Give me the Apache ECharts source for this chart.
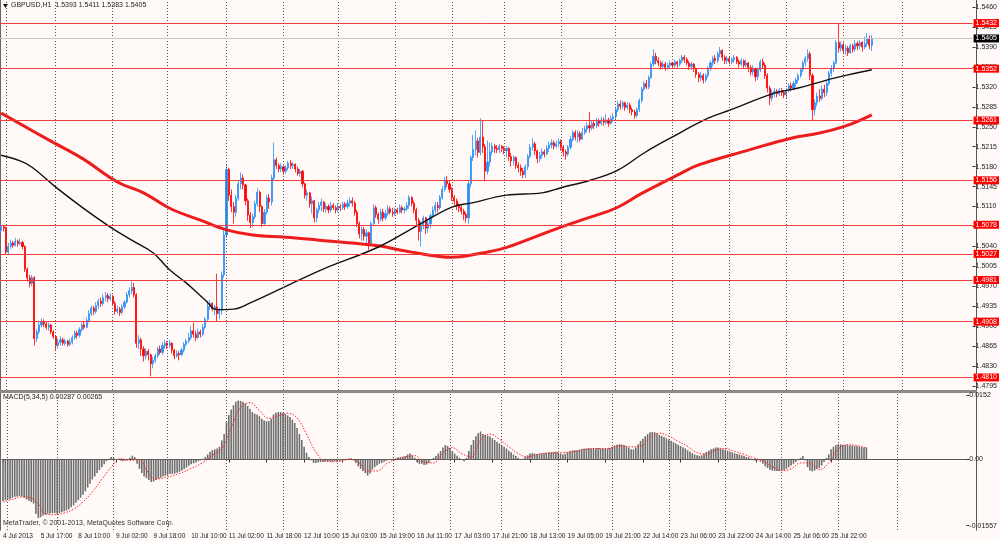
<!DOCTYPE html>
<html lang="en">
<head>
<meta charset="UTF-8">
<title>GBPUSD,H1</title>
<script src="https://cdn.jsdelivr.net/npm/echarts@6/dist/echarts.min.js"></script>
<style>
  html, body { margin: 0; padding: 0; background: #fffaf8; }
  #chart { width: 1000px; height: 541px; }
</style>
</head>
<body>
<div id="chart"></div>
<script>
// ---- data ----
const symbol = 'GBPUSD,H1';
const timeLabels = ['4 Jul 2013', '5 Jul 17:00', '8 Jul 10:00', '9 Jul 02:00', '9 Jul 18:00', '10 Jul 10:00',
  '11 Jul 02:00', '11 Jul 18:00', '12 Jul 10:00', '15 Jul 03:00', '15 Jul 19:00', '16 Jul 11:00',
  '17 Jul 03:00', '17 Jul 21:00', '18 Jul 13:00', '19 Jul 05:00', '19 Jul 21:00', '22 Jul 14:00',
  '23 Jul 06:00', '23 Jul 22:00', '24 Jul 14:00', '25 Jul 06:00', '25 Jul 22:00'];
const priceTicks = [1.4795, 1.4830, 1.4865, 1.4900, 1.4935, 1.4970, 1.5005, 1.5040, 1.5075, 1.5110,
  1.5145, 1.5180, 1.5215, 1.5250, 1.5285, 1.5320, 1.5355, 1.5390, 1.5425, 1.5460];
const levels = [1.5432, 1.5352, 1.5261, 1.5156, 1.5078, 1.5027, 1.4981, 1.4908, 1.4810];
const dayLines = [2, 23, 47, 70, 95, 119, 142, 166, 190, 212, 236, 259, 283, 307, 331, 355, 380];
const macdTicks = [-0.01557, 0, 0.0152];

const firstOpen = 1.5068;
const closes = [
  1.5075,1.5072,1.5030,1.5040,1.5046,1.5042,1.5049,1.5045,1.5047,1.5040,
  1.5000,1.4985,1.4975,1.4985,1.4878,1.4890,1.4902,1.4908,1.4904,1.4898,
  1.4902,1.4890,1.4882,1.4866,1.4872,1.4876,1.4870,1.4874,1.4868,1.4872,
  1.4880,1.4888,1.4884,1.4894,1.4902,1.4898,1.4910,1.4922,1.4932,1.4926,
  1.4936,1.4944,1.4940,1.4950,1.4954,1.4948,1.4952,1.4940,1.4926,1.4930,
  1.4924,1.4934,1.4942,1.4955,1.4962,1.4968,1.4955,1.4870,1.4876,1.4860,
  1.4848,1.4856,1.4850,1.4834,1.4840,1.4848,1.4860,1.4854,1.4866,1.4870,
  1.4866,1.4870,1.4858,1.4848,1.4852,1.4850,1.4858,1.4868,1.4874,1.4880,
  1.4892,1.4886,1.4880,1.4890,1.4886,1.4898,1.4912,1.4935,1.4940,1.4930,
  1.4934,1.4922,1.4928,1.4990,1.5060,1.5175,1.5130,1.5110,1.5100,1.5125,
  1.5150,1.5160,1.5148,1.5120,1.5095,1.5082,1.5092,1.5115,1.5135,1.5110,
  1.5080,1.5100,1.5125,1.5118,1.5160,1.5192,1.5182,1.5176,1.5180,1.5172,
  1.5178,1.5186,1.5182,1.5184,1.5176,1.5168,1.5172,1.5150,1.5130,1.5134,
  1.5115,1.5120,1.5090,1.5104,1.5112,1.5118,1.5106,1.5110,1.5104,1.5112,
  1.5108,1.5104,1.5110,1.5108,1.5114,1.5110,1.5116,1.5120,1.5116,1.5100,
  1.5080,1.5062,1.5070,1.5058,1.5064,1.5046,1.5080,1.5108,1.5096,1.5088,
  1.5100,1.5090,1.5098,1.5106,1.5100,1.5098,1.5104,1.5100,1.5108,1.5104,
  1.5106,1.5112,1.5126,1.5116,1.5104,1.5086,1.5066,1.5078,1.5090,1.5072,
  1.5080,1.5094,1.5104,1.5112,1.5108,1.5126,1.5140,1.5156,1.5150,1.5140,
  1.5126,1.5120,1.5112,1.5108,1.5102,1.5096,1.5090,1.5150,1.5196,1.5210,
  1.5225,1.5205,1.5232,1.5215,1.5172,1.5188,1.5206,1.5216,1.5212,1.5210,
  1.5216,1.5212,1.5208,1.5212,1.5198,1.5190,1.5196,1.5182,1.5178,1.5172,
  1.5166,1.5180,1.5198,1.5214,1.5220,1.5208,1.5194,1.5200,1.5206,1.5202,
  1.5212,1.5218,1.5222,1.5216,1.5220,1.5224,1.5214,1.5206,1.5202,1.5214,
  1.5228,1.5240,1.5232,1.5238,1.5228,1.5240,1.5246,1.5252,1.5248,1.5256,
  1.5252,1.5260,1.5256,1.5262,1.5258,1.5262,1.5256,1.5264,1.5268,1.5280,
  1.5290,1.5286,1.5292,1.5284,1.5288,1.5280,1.5276,1.5270,1.5280,1.5296,
  1.5316,1.5326,1.5320,1.5336,1.5360,1.5374,1.5366,1.5362,1.5356,1.5360,
  1.5354,1.5358,1.5362,1.5358,1.5364,1.5360,1.5366,1.5372,1.5368,1.5362,
  1.5356,1.5360,1.5352,1.5342,1.5336,1.5340,1.5332,1.5340,1.5352,1.5362,
  1.5370,1.5366,1.5378,1.5384,1.5372,1.5366,1.5370,1.5364,1.5368,1.5372,
  1.5364,1.5360,1.5366,1.5358,1.5362,1.5354,1.5346,1.5352,1.5338,1.5350,
  1.5364,1.5358,1.5340,1.5318,1.5300,1.5310,1.5312,1.5308,1.5314,1.5310,
  1.5306,1.5314,1.5322,1.5318,1.5326,1.5332,1.5340,1.5350,1.5362,1.5370,
  1.5378,1.5340,1.5280,1.5292,1.5304,1.5300,1.5316,1.5310,1.5326,1.5344,
  1.5352,1.5362,1.5398,1.5388,1.5394,1.5384,1.5388,1.5380,1.5392,1.5386,
  1.5396,1.5392,1.5398,1.5390,1.5396,1.5404,1.5393,1.5405
];
const highs = [
  1.5080,1.5078,1.5074,1.5046,1.5052,1.5050,1.5055,1.5052,1.5054,1.5050,
  1.5042,1.5003,1.4990,1.4990,1.4988,1.4895,1.4908,1.4914,1.4912,1.4908,
  1.4906,1.4904,1.4893,1.4884,1.4878,1.4882,1.4880,1.4878,1.4876,1.4878,
  1.4884,1.4892,1.4892,1.4898,1.4906,1.4908,1.4915,1.4928,1.4936,1.4936,
  1.4942,1.4948,1.4950,1.4956,1.4960,1.4958,1.4958,1.4955,1.4944,1.4936,
  1.4934,1.4938,1.4946,1.4960,1.4968,1.4978,1.4976,1.4958,1.4884,1.4880,
  1.4865,1.4862,1.4860,1.4852,1.4846,1.4852,1.4864,1.4866,1.4872,1.4876,
  1.4874,1.4876,1.4872,1.4860,1.4858,1.4856,1.4862,1.4872,1.4878,1.4888,
  1.4900,1.4906,1.4892,1.4896,1.4894,1.4904,1.4916,1.4944,1.4946,1.4942,
  1.4938,1.4992,1.4932,1.4996,1.5070,1.5185,1.5178,1.5140,1.5118,1.5130,
  1.5156,1.5170,1.5166,1.5150,1.5124,1.5100,1.5098,1.5120,1.5142,1.5138,
  1.5112,1.5106,1.5130,1.5132,1.5166,1.5222,1.5196,1.5186,1.5186,1.5182,
  1.5182,1.5190,1.5192,1.5188,1.5186,1.5180,1.5176,1.5174,1.5152,1.5140,
  1.5136,1.5128,1.5122,1.5108,1.5118,1.5124,1.5120,1.5116,1.5114,1.5118,
  1.5116,1.5112,1.5116,1.5114,1.5118,1.5118,1.5122,1.5126,1.5126,1.5120,
  1.5104,1.5084,1.5076,1.5074,1.5070,1.5066,1.5084,1.5114,1.5112,1.5100,
  1.5106,1.5106,1.5104,1.5112,1.5110,1.5108,1.5108,1.5108,1.5114,1.5112,
  1.5110,1.5118,1.5130,1.5128,1.5120,1.5108,1.5090,1.5084,1.5094,1.5092,
  1.5086,1.5098,1.5110,1.5118,1.5118,1.5130,1.5146,1.5162,1.5164,1.5156,
  1.5144,1.5130,1.5124,1.5116,1.5112,1.5106,1.5100,1.5156,1.5200,1.5236,
  1.5244,1.5230,1.5265,1.5262,1.5220,1.5226,1.5222,1.5222,1.5220,1.5218,
  1.5220,1.5218,1.5216,1.5216,1.5214,1.5204,1.5200,1.5198,1.5188,1.5184,
  1.5178,1.5184,1.5202,1.5220,1.5230,1.5224,1.5210,1.5206,1.5212,1.5210,
  1.5218,1.5224,1.5228,1.5226,1.5226,1.5230,1.5228,1.5218,1.5210,1.5218,
  1.5234,1.5244,1.5244,1.5244,1.5242,1.5248,1.5252,1.5258,1.5276,1.5262,
  1.5262,1.5266,1.5264,1.5268,1.5266,1.5272,1.5266,1.5270,1.5274,1.5284,
  1.5296,1.5296,1.5296,1.5294,1.5294,1.5292,1.5284,1.5280,1.5284,1.5300,
  1.5320,1.5330,1.5332,1.5340,1.5364,1.5386,1.5380,1.5372,1.5366,1.5366,
  1.5364,1.5362,1.5366,1.5364,1.5368,1.5366,1.5370,1.5376,1.5376,1.5372,
  1.5366,1.5364,1.5362,1.5354,1.5346,1.5346,1.5344,1.5344,1.5356,1.5366,
  1.5374,1.5376,1.5382,1.5390,1.5386,1.5376,1.5374,1.5374,1.5372,1.5376,
  1.5374,1.5368,1.5370,1.5368,1.5368,1.5364,1.5358,1.5358,1.5354,1.5354,
  1.5368,1.5370,1.5362,1.5344,1.5322,1.5316,1.5318,1.5316,1.5318,1.5318,
  1.5314,1.5318,1.5326,1.5328,1.5330,1.5336,1.5344,1.5354,1.5366,1.5374,
  1.5386,1.5382,1.5344,1.5298,1.5310,1.5316,1.5322,1.5324,1.5332,1.5348,
  1.5358,1.5366,1.5402,1.5432,1.5400,1.5398,1.5394,1.5392,1.5396,1.5396,
  1.5402,1.5400,1.5402,1.5400,1.5408,1.5414,1.5410,1.5411
];
const lows = [
  1.5064,1.5066,1.5025,1.5026,1.5036,1.5038,1.5040,1.5040,1.5042,1.5035,
  1.4995,1.4978,1.4968,1.4970,1.4866,1.4872,1.4886,1.4898,1.4898,1.4894,
  1.4892,1.4886,1.4878,1.4858,1.4860,1.4866,1.4866,1.4866,1.4864,1.4865,
  1.4868,1.4876,1.4878,1.4880,1.4890,1.4894,1.4896,1.4906,1.4918,1.4920,
  1.4922,1.4930,1.4934,1.4936,1.4944,1.4942,1.4944,1.4936,1.4920,1.4922,
  1.4918,1.4920,1.4930,1.4940,1.4950,1.4956,1.4950,1.4862,1.4860,1.4848,
  1.4838,1.4842,1.4840,1.4812,1.4826,1.4836,1.4844,1.4850,1.4850,1.4860,
  1.4860,1.4862,1.4852,1.4842,1.4845,1.4840,1.4848,1.4854,1.4864,1.4870,
  1.4876,1.4880,1.4874,1.4878,1.4880,1.4882,1.4894,1.4908,1.4928,1.4926,
  1.4920,1.4908,1.4912,1.4920,1.4985,1.5055,1.5120,1.5100,1.5080,1.5092,
  1.5120,1.5140,1.5140,1.5112,1.5085,1.5072,1.5074,1.5088,1.5110,1.5100,
  1.5074,1.5078,1.5096,1.5106,1.5112,1.5156,1.5176,1.5170,1.5170,1.5166,
  1.5168,1.5174,1.5176,1.5176,1.5170,1.5164,1.5162,1.5144,1.5124,1.5120,
  1.5108,1.5098,1.5082,1.5082,1.5098,1.5102,1.5100,1.5100,1.5098,1.5100,
  1.5104,1.5098,1.5100,1.5102,1.5104,1.5104,1.5106,1.5110,1.5110,1.5094,
  1.5074,1.5054,1.5050,1.5050,1.5040,1.5034,1.5042,1.5076,1.5090,1.5080,
  1.5084,1.5084,1.5086,1.5094,1.5096,1.5092,1.5094,1.5096,1.5098,1.5098,
  1.5098,1.5102,1.5106,1.5110,1.5098,1.5076,1.5050,1.5040,1.5070,1.5062,
  1.5064,1.5072,1.5090,1.5098,1.5100,1.5104,1.5122,1.5136,1.5144,1.5134,
  1.5120,1.5112,1.5104,1.5100,1.5096,1.5086,1.5082,1.5080,1.5144,1.5190,
  1.5200,1.5196,1.5200,1.5204,1.5154,1.5166,1.5180,1.5200,1.5204,1.5204,
  1.5204,1.5206,1.5202,1.5196,1.5190,1.5180,1.5182,1.5176,1.5170,1.5164,
  1.5160,1.5160,1.5174,1.5194,1.5208,1.5200,1.5186,1.5188,1.5194,1.5196,
  1.5200,1.5206,1.5212,1.5210,1.5212,1.5214,1.5208,1.5198,1.5192,1.5198,
  1.5210,1.5224,1.5226,1.5222,1.5224,1.5228,1.5236,1.5240,1.5240,1.5244,
  1.5246,1.5248,1.5250,1.5252,1.5252,1.5254,1.5250,1.5254,1.5258,1.5262,
  1.5276,1.5280,1.5282,1.5278,1.5280,1.5274,1.5270,1.5264,1.5266,1.5276,
  1.5292,1.5312,1.5316,1.5316,1.5334,1.5356,1.5360,1.5356,1.5350,1.5352,
  1.5348,1.5350,1.5352,1.5352,1.5354,1.5354,1.5356,1.5362,1.5362,1.5358,
  1.5350,1.5350,1.5346,1.5336,1.5328,1.5330,1.5326,1.5328,1.5336,1.5348,
  1.5356,1.5360,1.5362,1.5372,1.5366,1.5360,1.5360,1.5360,1.5360,1.5362,
  1.5360,1.5354,1.5356,1.5352,1.5354,1.5346,1.5340,1.5340,1.5330,1.5332,
  1.5346,1.5352,1.5334,1.5310,1.5288,1.5294,1.5302,1.5302,1.5304,1.5304,
  1.5300,1.5300,1.5310,1.5312,1.5314,1.5320,1.5326,1.5336,1.5346,1.5356,
  1.5364,1.5332,1.5262,1.5270,1.5286,1.5294,1.5296,1.5302,1.5304,1.5322,
  1.5338,1.5346,1.5360,1.5380,1.5382,1.5378,1.5376,1.5374,1.5378,1.5380,
  1.5382,1.5384,1.5386,1.5382,1.5386,1.5390,1.5386,1.5383
];

// moving averages, read at points along each curve (bar index, price)
const maBlackBars = [0, 8, 13, 23, 34, 46, 55, 64, 71, 78, 86, 91, 98, 105, 117, 135, 159, 176, 190,
  198, 213, 228, 236, 249, 260, 271, 282, 298, 307, 326, 336, 348, 357, 367];
const maBlackValues = [1.5200, 1.5190, 1.5179, 1.5144, 1.5109, 1.5074, 1.5051, 1.5029, 1.4999, 1.4976, 1.4946,
  1.4929, 1.4930, 1.4941, 1.4964, 1.4999, 1.5039, 1.5078, 1.5109, 1.5116, 1.5130, 1.5134,
  1.5143, 1.5157, 1.5174, 1.5204, 1.5230, 1.5265, 1.5279, 1.5309, 1.5318, 1.5332, 1.5341, 1.5350];
const maRedBars = [0, 20, 34, 49, 60, 71, 84, 95, 106, 120, 134, 148, 159, 173, 190, 201, 212, 224,
  236, 248, 259, 270, 285, 294, 315, 333, 345, 357, 367];
const maRedValues = [1.5274, 1.5227, 1.5195, 1.5153, 1.5134, 1.5107, 1.5086, 1.5069, 1.5060, 1.5056, 1.5051,
  1.5046, 1.5041, 1.5030, 1.5021, 1.5027, 1.5037, 1.5055, 1.5074, 1.5091, 1.5107, 1.5133,
  1.5165, 1.5183, 1.5209, 1.5230, 1.5239, 1.5253, 1.5271];

// MACD(5,34,5) main histogram, one value per bar
const macd = [
  -0.0098,-0.0096,-0.0094,-0.0093,-0.0090,-0.0088,-0.0087,-0.0086,-0.0087,-0.0090,
  -0.0094,-0.0097,-0.0100,-0.0104,-0.0128,-0.0138,-0.0136,-0.0132,-0.0130,-0.0128,
  -0.0127,-0.0126,-0.0126,-0.0128,-0.0126,-0.0124,-0.0122,-0.0120,-0.0117,-0.0112,
  -0.0108,-0.0102,-0.0096,-0.0090,-0.0083,-0.0075,-0.0066,-0.0057,-0.0047,-0.0040,
  -0.0032,-0.0025,-0.0018,-0.0011,-0.0004,0.0002,0.0006,0.0005,0.0001,-0.0001,
  -0.0003,-0.0004,-0.0003,-0.0001,0.0004,0.0009,0.0006,-0.0010,-0.0022,-0.0032,
  -0.0040,-0.0044,-0.0048,-0.0053,-0.0052,-0.0048,-0.0045,-0.0043,-0.0040,-0.0038,
  -0.0036,-0.0034,-0.0034,-0.0033,-0.0031,-0.0029,-0.0026,-0.0023,-0.0019,-0.0015,
  -0.0011,-0.0009,-0.0007,-0.0004,-0.0002,0.0002,0.0006,0.0012,0.0018,0.0022,
  0.0024,0.0026,0.0030,0.0045,0.0060,0.0088,0.0105,0.0118,0.0128,0.0136,
  0.0139,0.0138,0.0136,0.0132,0.0126,0.0119,0.0112,0.0108,0.0106,0.0102,
  0.0096,0.0092,0.0090,0.0091,0.0096,0.0106,0.0110,0.0112,0.0112,0.0110,
  0.0107,0.0104,0.0100,0.0094,0.0086,0.0074,0.0060,0.0046,0.0030,0.0016,
  0.0006,-0.0002,-0.0008,-0.0008,-0.0007,-0.0006,-0.0006,-0.0005,-0.0005,-0.0004,
  -0.0005,-0.0004,-0.0004,-0.0003,-0.0002,-0.0001,0.0001,0.0003,0.0003,0.0001,
  -0.0008,-0.0016,-0.0022,-0.0027,-0.0032,-0.0038,-0.0033,-0.0024,-0.0018,-0.0014,
  -0.0010,-0.0008,-0.0005,-0.0003,-0.0001,0.0000,0.0002,0.0003,0.0005,0.0006,
  0.0007,0.0008,0.0012,0.0014,0.0010,0.0004,-0.0006,-0.0010,-0.0010,-0.0013,
  -0.0012,-0.0008,-0.0002,0.0004,0.0008,0.0014,0.0020,0.0028,0.0034,0.0032,
  0.0027,0.0020,0.0014,0.0009,0.0004,0.0000,-0.0004,0.0004,0.0020,0.0034,
  0.0046,0.0055,0.0062,0.0066,0.0060,0.0058,0.0056,0.0054,0.0050,0.0046,
  0.0042,0.0038,0.0034,0.0030,0.0026,0.0021,0.0017,0.0012,0.0008,0.0004,
  0.0001,0.0002,0.0006,0.0010,0.0014,0.0015,0.0014,0.0013,0.0014,0.0014,
  0.0015,0.0016,0.0017,0.0017,0.0017,0.0018,0.0016,0.0014,0.0012,0.0014,
  0.0017,0.0020,0.0021,0.0022,0.0022,0.0023,0.0025,0.0026,0.0026,0.0027,
  0.0026,0.0026,0.0026,0.0027,0.0026,0.0026,0.0025,0.0026,0.0027,0.0030,
  0.0033,0.0035,0.0036,0.0035,0.0034,0.0031,0.0028,0.0024,0.0024,0.0028,
  0.0036,0.0044,0.0049,0.0055,0.0060,0.0064,0.0065,0.0064,0.0061,0.0058,
  0.0056,0.0053,0.0050,0.0047,0.0044,0.0041,0.0038,0.0035,0.0032,0.0029,
  0.0026,0.0022,0.0018,0.0015,0.0012,0.0010,0.0009,0.0010,0.0014,0.0018,
  0.0021,0.0024,0.0026,0.0028,0.0028,0.0026,0.0024,0.0023,0.0021,0.0019,
  0.0017,0.0015,0.0013,0.0012,0.0010,0.0008,0.0006,0.0005,0.0002,-0.0002,
  -0.0003,-0.0002,-0.0005,-0.0010,-0.0016,-0.0020,-0.0024,-0.0026,-0.0027,-0.0027,
  -0.0027,-0.0026,-0.0025,-0.0022,-0.0018,-0.0014,-0.0010,-0.0006,-0.0002,0.0004,
  0.0008,-0.0002,-0.0018,-0.0026,-0.0028,-0.0026,-0.0022,-0.0020,-0.0014,-0.0006,
  0.0004,0.0012,0.0024,0.0030,0.0034,0.0036,0.0036,0.0035,0.0034,0.0034,
  0.0033,0.0033,0.0032,0.0031,0.0030,0.0029,0.0028,0.00287
];
// signal line, read at points along the dotted curve
const signalBars = [0, 4, 8, 12, 15, 18, 22, 26, 30, 34, 38, 42, 46, 50, 54, 58, 61, 65, 70, 75, 80, 85, 89, 93,
  97, 101, 105, 109, 113, 117, 121, 125, 129, 133, 137, 142, 147, 151, 155, 159, 163, 167, 171, 175, 179,
  183, 187, 191, 195, 199, 203, 207, 211, 215, 219, 223, 227, 232, 237, 242, 247, 252, 257, 262, 267, 271,
  275, 279, 283, 287, 291, 295, 299, 303, 307, 311, 315, 319, 323, 327, 331, 335, 339, 343, 347, 351, 355,
  359, 363, 367];
const signalValues = [-0.0100, -0.0094, -0.0088, -0.0091, -0.0105, -0.0128, -0.0130, -0.0126, -0.0117, -0.0100,
  -0.0076, -0.0047, -0.0018, 0.0002, -0.0002, 0.0000, -0.0025, -0.0046, -0.0041, -0.0033, -0.0021, -0.0007,
  0.0010, 0.0025, 0.0075, 0.0122, 0.0134, 0.0115, 0.0097, 0.0103, 0.0109, 0.0098, 0.0060, 0.0018, -0.0004,
  -0.0005, 0.0000, -0.0006, -0.0027, -0.0027, -0.0010, 0.0000, 0.0006, 0.0009, -0.0006, -0.0008, 0.0014,
  0.0028, 0.0014, 0.0006, 0.0046, 0.0060, 0.0048, 0.0030, 0.0014, 0.0006, 0.0012, 0.0015, 0.0016, 0.0018,
  0.0023, 0.0026, 0.0026, 0.0032, 0.0030, 0.0031, 0.0052, 0.0062, 0.0055, 0.0043, 0.0031, 0.0016, 0.0013,
  0.0022, 0.0026, 0.0019, 0.0012, 0.0004, -0.0003, -0.0017, -0.0026, -0.0022, -0.0008, -0.0008, -0.0024,
  -0.0008, 0.0024, 0.0035, 0.0033, 0.00265];

// ---- chart ----
const slots = 410;
const slotNames = Array.from({ length: slots }, (_, i) => String(i));
const last = closes.length - 1;
const opens = closes.map((c, i) => (i === 0 ? firstOpen : closes[i - 1]));
const ohlc = closes.map((c, i) => [opens[i], c, lows[i], highs[i]]);
const pairs = (xs, ys) => xs.map((x, i) => [x, ys[i]]);

const BLUE = '#2b8ff5';
const RED = '#ff0000';
const FONT = 'Liberation Sans';

const dayMarks = () => dayLines.map(d => ({ xAxis: d, label: { show: false },
  lineStyle: { color: '#555', type: [1, 2], width: 1 } }));

const levelMarks = levels.map(v => ({ yAxis: v,
  lineStyle: { color: '#f23b3b', width: 1, type: 'solid' },
  label: { show: true, position: 'end', distance: 1, formatter: () => v.toFixed(4),
    backgroundColor: RED, color: '#fff', fontSize: 7, fontFamily: FONT, padding: [1, 2, 0, 2] } }));

const priceMark = { yAxis: closes[last],
  lineStyle: { color: '#c8c8c8', width: 1, type: 'solid' },
  label: { show: true, position: 'end', distance: 1, formatter: () => closes[last].toFixed(4),
    backgroundColor: '#000', color: '#fff', fontSize: 7, fontFamily: FONT, padding: [1, 2, 0, 2] } };

const chart = echarts.init(document.getElementById('chart'));
chart.setOption({
  animation: false,
  backgroundColor: '#fffaf8',
  textStyle: { fontFamily: FONT },
  grid: [
    { left: 0, right: 24, top: 2, height: 388 },
    { left: 0, right: 24, top: 393, height: 137 }
  ],
  xAxis: [
    { type: 'category', gridIndex: 0, data: slotNames, boundaryGap: true,
      axisLine: { show: false }, axisTick: { show: false }, axisLabel: { show: false }, splitLine: { show: false } },
    { type: 'category', gridIndex: 1, data: slotNames, boundaryGap: true,
      axisLine: { show: true, lineStyle: { color: '#555', width: 1 } },
      axisTick: { show: true, alignWithLabel: true, length: 3, lineStyle: { color: '#333' },
        interval: i => i % 16 === 0 && i / 16 < timeLabels.length },
      axisLabel: { interval: 15, align: 'left', margin: 3, fontSize: 6.5, color: '#222',
        formatter: (v, i) => timeLabels[i / 16] || '' },
      splitLine: { show: false } }
  ],
  yAxis: [
    { type: 'value', gridIndex: 0, position: 'right', min: 1.4788, max: 1.5469, scale: true,
      splitLine: { show: false }, axisLine: { show: false },
      axisTick: { show: true, length: 3, customValues: priceTicks, lineStyle: { color: '#333' } },
      axisLabel: { customValues: priceTicks, margin: 3, fontSize: 7, color: '#222',
        formatter: v => v.toFixed(4) } },
    { type: 'value', gridIndex: 1, position: 'right', min: -0.01661, max: 0.01567,
      splitLine: { show: false }, axisLine: { show: false },
      axisTick: { show: true, length: 3, customValues: macdTicks, lineStyle: { color: '#333' } },
      axisLabel: { customValues: macdTicks, margin: 3, fontSize: 7, color: '#222',
        formatter: v => (v === 0 ? '0.00' : String(v)) } }
  ],
  series: [
    { type: 'candlestick', xAxisIndex: 0, yAxisIndex: 0, data: ohlc, barWidth: 1.6,
      itemStyle: { color: BLUE, color0: RED, borderColor: BLUE, borderColor0: RED, borderWidth: 0.8 },
      markLine: { silent: true, symbol: ['none', 'none'], animation: false, precision: 5, z: 10,
        data: [...dayMarks(), ...levelMarks, priceMark] } },
    { type: 'line', xAxisIndex: 0, yAxisIndex: 0, data: pairs(maRedBars, maRedValues), smooth: 0.4,
      showSymbol: false, lineStyle: { color: '#ee1d1d', width: 3 }, z: 3 },
    { type: 'line', xAxisIndex: 0, yAxisIndex: 0, data: pairs(maBlackBars, maBlackValues), smooth: 0.4,
      showSymbol: false, lineStyle: { color: '#111', width: 1.4 }, z: 3 },
    { type: 'bar', xAxisIndex: 1, yAxisIndex: 1, data: macd, barWidth: 1.6,
      itemStyle: { color: '#6e6e6e' },
      markLine: { silent: true, symbol: ['none', 'none'], animation: false, data: dayMarks() } },
    { type: 'line', xAxisIndex: 1, yAxisIndex: 1, data: pairs(signalBars, signalValues), smooth: 0.4,
      showSymbol: false, lineStyle: { color: '#ff2020', width: 1, type: [1.5, 1.5] }, z: 4 }
  ],
  graphic: [
    { type: 'line', shape: { x1: 0.5, y1: 0, x2: 0.5, y2: 530.5 }, style: { stroke: '#666', lineWidth: 1 }, silent: true },
    { type: 'line', shape: { x1: 976.5, y1: 0, x2: 976.5, y2: 530.5 }, style: { stroke: '#555', lineWidth: 1 }, silent: true },
    { type: 'rect', shape: { x: 0, y: 390, width: 977, height: 3 }, style: { fill: '#8a8a8a' }, silent: true },
    { type: 'polygon', shape: { points: [[3, 4], [8, 4], [5.5, 8]] }, style: { fill: '#111' }, silent: true },
    { type: 'text', left: 11, top: 2, silent: true,
      style: { text: symbol + '  ' + [opens[last], highs[last], lows[last], closes[last]].map(v => v.toFixed(4)).join(' '),
        fill: '#222', font: '7px "Liberation Sans"' } },
    { type: 'text', left: 3, top: 394, silent: true,
      style: { text: 'MACD(5,34,5) ' + macd[last].toFixed(5) + ' ' + signalValues[signalValues.length - 1].toFixed(5),
        fill: '#222', font: '7px "Liberation Sans"' } },
    { type: 'text', left: 3, top: 520, silent: true,
      style: { text: 'MetaTrader, \u00a9 2001-2013, MetaQuotes Software Corp.', fill: '#333', font: '7px "Liberation Sans"' } }
  ]
});
</script>
</body>
</html>
